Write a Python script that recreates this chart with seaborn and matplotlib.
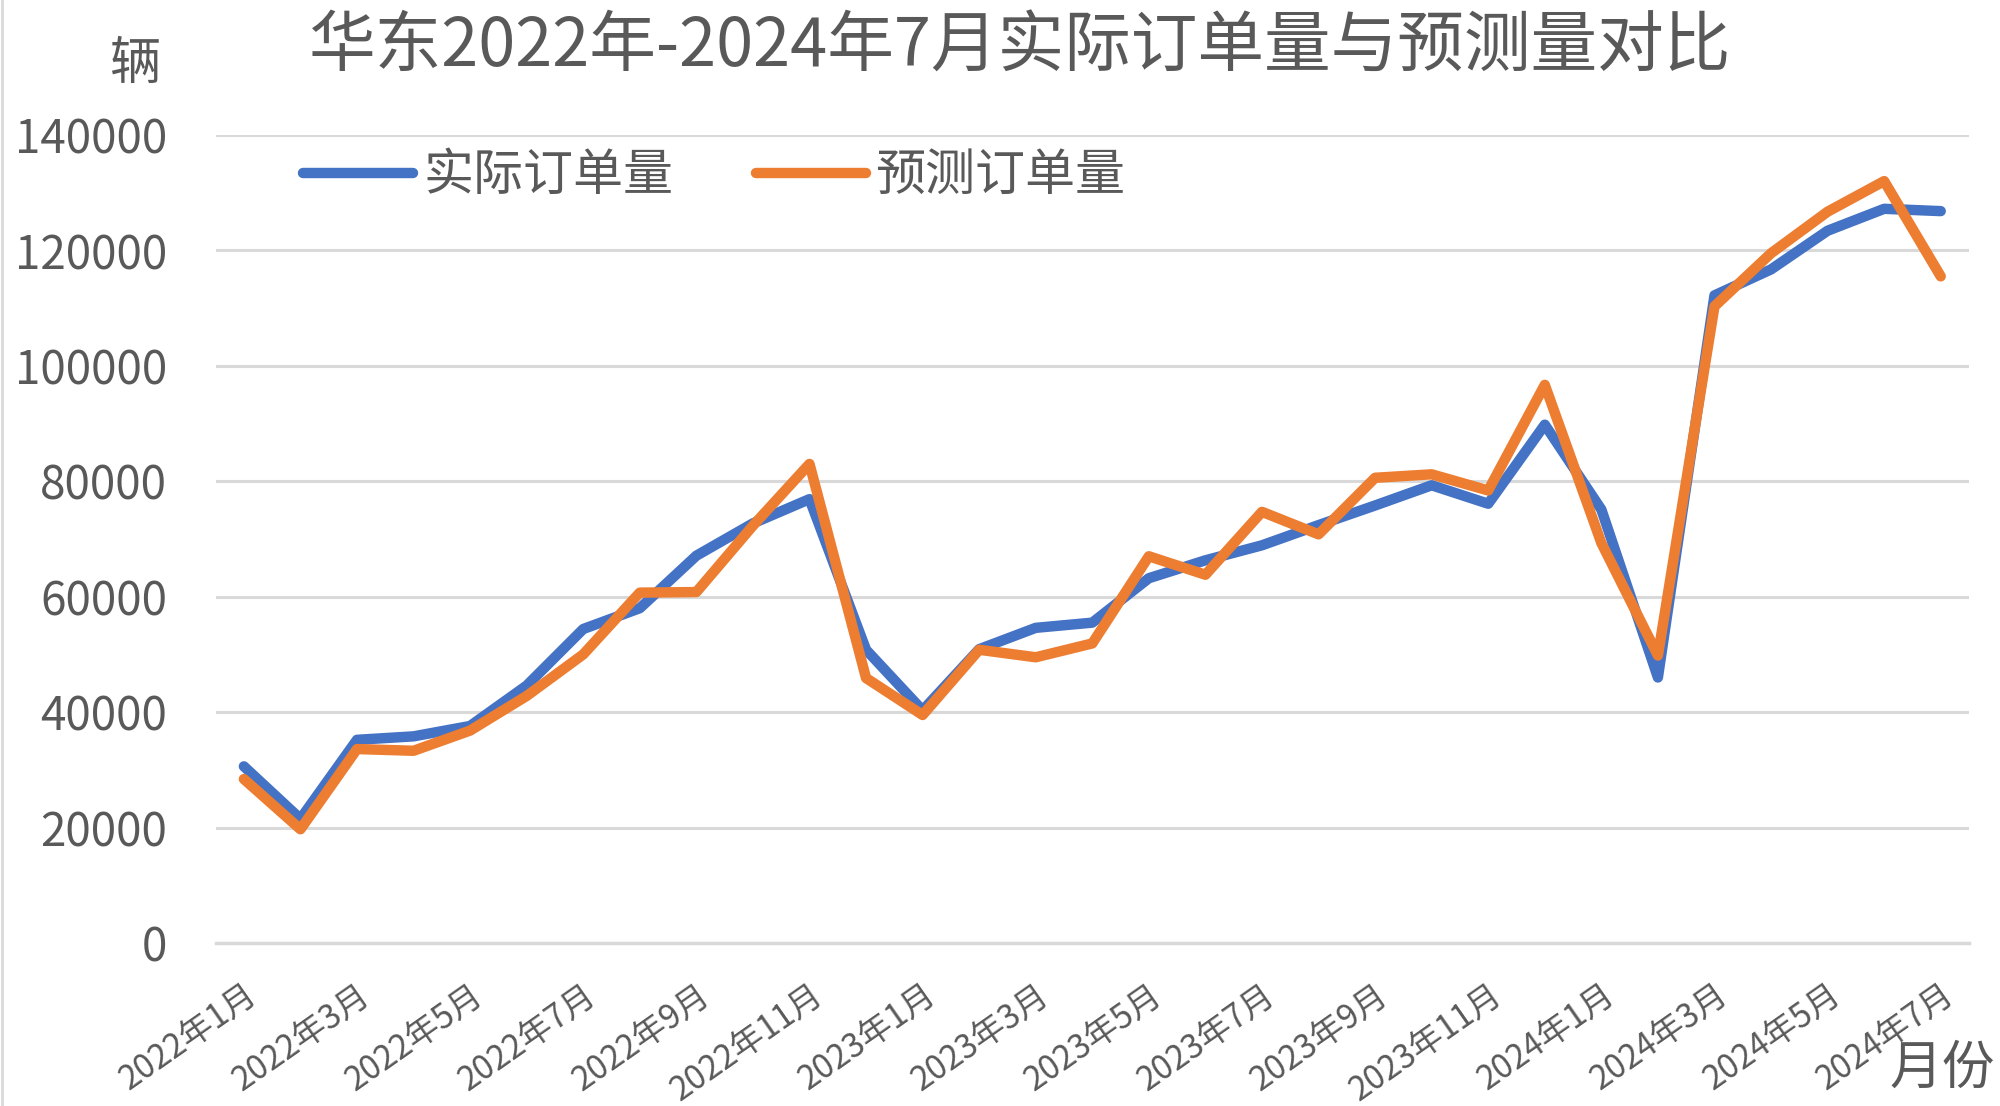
import matplotlib
matplotlib.use('Agg')
import matplotlib.pyplot as plt
import pandas as pd
import seaborn as sns
from matplotlib.lines import Line2D

# month labels, 2022-01 .. 2024-07
months = ([f'2022年{m}月' for m in range(1, 13)]
          + [f'2023年{m}月' for m in range(1, 13)]
          + [f'2024年{m}月' for m in range(1, 8)])

actual = [30600, 21500, 35200, 35800, 37600, 44600, 54400, 58000, 67100,
          72700, 76900, 50800, 40300, 50900, 54600, 55500, 63200, 66300,
          68900, 72400, 75800, 79300, 76100, 89800, 75100, 46000, 112200,
          116700, 123400, 127200, 126800]
forecast = [28400, 19700, 33600, 33300, 36800, 42800, 50000, 60700, 60800,
            72300, 83000, 45900, 39500, 50800, 49500, 51900, 67000, 63800,
            74700, 70800, 80600, 81200, 78400, 96700, 69300, 49800, 110300,
            119500, 126700, 132000, 115500]
series_names = ['实际订单量', '预测订单量']
colors = ['#4472C4', '#ED7D31']
y_ticks = [0, 20000, 40000, 60000, 80000, 100000, 120000, 140000]

TEXT = '#595959'
GRID = '#D9D9D9'

sns.set_theme(style='white')
plt.rcParams['font.family'] = ['Noto Sans CJK SC', 'DejaVu Sans']

df = pd.DataFrame({'pos': range(len(months)), 'month': months,
                   series_names[0]: actual, series_names[1]: forecast})
long_df = df.melt(id_vars=['pos', 'month'], var_name='series',
                  value_name='value')

fig = plt.figure(figsize=(20, 11.06), dpi=100)
ax = fig.add_axes([0.1078, 0.1474, 0.8767, 0.7306])

sns.lineplot(data=long_df, x='pos', y='value', hue='series',
             hue_order=series_names, palette=colors, linewidth=7.5,
             ax=ax, legend=False, sort=False)
for line in ax.lines:
    line.set_solid_capstyle('round')
    line.set_solid_joinstyle('round')

ax.set_xlim(-0.5, len(months) - 0.5)
ax.set_ylim(0, 140000)
ax.set_yticks(y_ticks)
ax.set_yticklabels([str(v) for v in y_ticks])
ax.yaxis.grid(True, color=GRID, linewidth=2.2)
ax.set_axisbelow(True)
ax.tick_params(axis='y', length=0, pad=35, labelsize=33, labelcolor=TEXT)

# major ticks between categories, labels on every other month
ax.set_xticks([i - 0.5 for i in range(0, len(months), 2)])
ax.set_xticklabels([])
ax.set_xticks(list(range(0, len(months), 2)), minor=True)
ax.set_xticklabels(months[::2], minor=True, rotation=35, ha='right',
                   va='top', rotation_mode='anchor')
ax.tick_params(axis='x', which='major', length=8, width=2, color=GRID,
               direction='out')
ax.tick_params(axis='x', which='minor', length=0, pad=25, labelsize=24,
               labelcolor=TEXT)
ax.set_xlabel('')
ax.set_ylabel('')

for side in ['top', 'right', 'left']:
    ax.spines[side].set_visible(False)
ax.spines['bottom'].set_color(GRID)
ax.spines['bottom'].set_linewidth(2.5)

handles = [Line2D([], [], color=c, linewidth=7.5, solid_capstyle='round')
           for c in colors]
ax.legend(handles, series_names, loc='center left',
          bbox_to_anchor=(0.1515, 1 - 176 / 1106),
          bbox_transform=fig.transFigure, ncol=2, frameon=False,
          fontsize=36, handlelength=2.2, handletextpad=0.2,
          columnspacing=1.65, borderpad=0, borderaxespad=0,
          labelcolor=TEXT)

fig.text(0.51, 1 - 48 / 1106, '华东2022年-2024年7月实际订单量与预测量对比',
         ha='center', va='center', fontsize=48, color=TEXT)
fig.text(136 / 2000, 1 - 64 / 1106, '辆', ha='center', va='center',
         fontsize=37, color=TEXT)
fig.text(1942 / 2000, 1 - 1068 / 1106, '月份', ha='center', va='center',
         fontsize=38, color=TEXT)
fig.add_artist(Line2D([0.001, 0.001], [0, 1], color=GRID, linewidth=2,
                      transform=fig.transFigure))

fig.savefig('out.png', dpi=100)
